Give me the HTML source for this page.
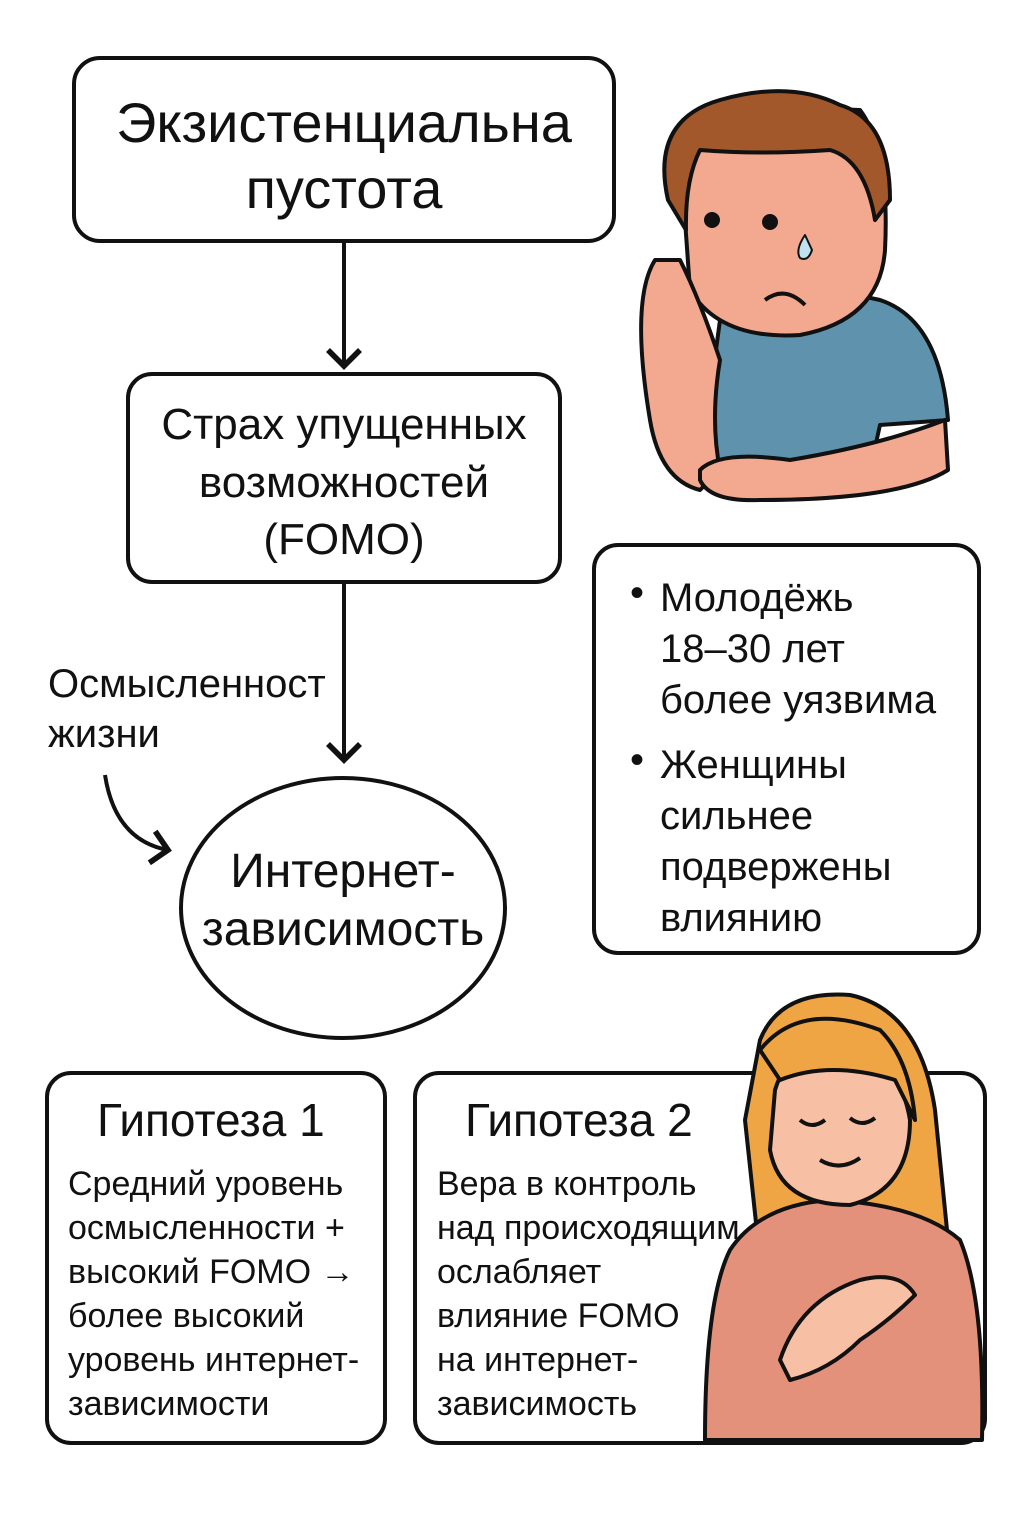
<!DOCTYPE html>
<html><head><meta charset="utf-8"><style>
body{margin:0;width:1024px;height:1536px;background:#fff;position:relative;overflow:hidden;font-family:"Liberation Sans Narrow","Liberation Sans","DejaVu Sans",sans-serif;color:#111}
.t{position:absolute;white-space:nowrap;line-height:1}
</style></head><body>
<svg width="1024" height="1536" style="position:absolute;left:0;top:0">
<defs><marker id="a" markerWidth="10" markerHeight="10" refX="5" refY="5" orient="auto"><path d="M1,1 L5,5 L1,9" fill="none" stroke="#111" stroke-width="1.4"/></marker></defs>
<g fill="none" stroke="#111" stroke-width="4">
<rect x="74" y="58" width="540" height="183" rx="26"/>
<rect x="128" y="374" width="432" height="208" rx="24"/>
<ellipse cx="343" cy="908" rx="162" ry="130"/>
<rect x="594" y="545" width="385" height="408" rx="24"/>
<rect x="47" y="1073" width="338" height="370" rx="24"/>
<rect x="415" y="1073" width="570" height="370" rx="24"/>
<path d="M344 241 V366" marker-end="url(#a)"/>
<path d="M344 582 V760" marker-end="url(#a)"/>
<path d="M105 775 Q115 840 168 850" marker-end="url(#a)"/>
</g>
<!-- boy -->
<g stroke="#111" stroke-width="4" stroke-linejoin="round">
<path d="M720 320 Q800 280 880 300 Q940 320 948 420 L880 425 L870 470 L700 470 Z" fill="#5f93ad"/>
<path d="M680 150 Q680 110 720 105 L860 110 Q890 150 885 250 Q880 320 800 335 Q720 340 690 290 Z" fill="#f2a98f"/>
<path d="M668 200 Q650 120 720 100 Q790 80 840 105 Q890 120 890 200 L875 220 Q865 160 830 150 Q760 155 700 150 Q685 180 686 230 Z" fill="#a3582c"/>
<path d="M655 260 Q630 300 650 420 Q660 480 700 490 L720 470 Q710 420 720 360 Q700 300 680 260 Z" fill="#f2a98f"/>
<path d="M700 470 Q720 450 790 460 Q880 445 945 420 L948 470 Q900 500 760 500 Q710 502 700 480 Z" fill="#f2a98f"/>
<circle cx="712" cy="220" r="6" fill="#111"/><circle cx="770" cy="222" r="6" fill="#111"/>
<path d="M765 300 Q785 285 805 305" fill="none"/>
<path d="M805 235 Q795 250 800 258 Q808 262 812 250 Z" fill="#bfe1f2" stroke-width="2"/>
</g>
<!-- woman -->
<g stroke="#111" stroke-width="4" stroke-linejoin="round">
<path d="M760 1040 Q780 990 850 995 Q920 1010 935 1110 L950 1260 L760 1260 L745 1120 Z" fill="#f0a545"/>
<path d="M730 1250 Q760 1205 830 1200 Q920 1205 960 1240 Q985 1300 982 1440 L705 1440 Q705 1300 730 1250 Z" fill="#e3917b"/>
<path d="M775 1090 Q790 1040 850 1040 Q900 1060 910 1120 Q910 1190 850 1205 Q780 1205 770 1150 Z" fill="#f7c0a5"/>
<path d="M760 1050 Q800 1000 880 1030 Q910 1060 915 1120 L895 1080 Q830 1060 780 1080 Z" fill="#f0a545"/>
<path d="M800 1120 Q812 1130 825 1120 M850 1118 Q862 1128 875 1118 M820 1160 Q840 1172 860 1158" fill="none"/>
<path d="M780 1360 Q800 1300 860 1280 Q900 1270 915 1295 Q890 1320 860 1340 Q830 1370 790 1380 Z" fill="#f7c0a5"/>
</g>
</svg>
<div class="t" style="left:74px;width:540px;text-align:center;top:95px;font-size:56px">Экзистенциальна</div>
<div class="t" style="left:74px;width:540px;text-align:center;top:161px;font-size:56px">пустота</div>
<div class="t" style="left:128px;width:432px;text-align:center;top:403px;font-size:44px">Страх упущенных</div>
<div class="t" style="left:128px;width:432px;text-align:center;top:461px;font-size:44px">возможностей</div>
<div class="t" style="left:128px;width:432px;text-align:center;top:518px;font-size:44px">(FOMO)</div>
<div class="t" style="left:48px;top:664px;font-size:40px">Осмысленност</div>
<div class="t" style="left:48px;top:714px;font-size:40px">жизни</div>
<div class="t" style="left:181px;width:324px;text-align:center;top:848px;font-size:48px">Интернет-</div>
<div class="t" style="left:181px;width:324px;text-align:center;top:906px;font-size:48px">зависимость</div>
<div class="t" style="left:630px;top:573px;font-size:40px">•</div>
<div class="t" style="left:660px;top:573px;font-size:40px;line-height:51px">Молодёжь<br>18–30 лет<br>более уязвима</div>
<div class="t" style="left:630px;top:740px;font-size:40px">•</div>
<div class="t" style="left:660px;top:740px;font-size:40px;line-height:51px">Женщины<br>сильнее<br>подвержены<br>влиянию</div>
<div class="t" style="left:97px;top:1097px;font-size:46px">Гипотеза 1</div>
<div class="t" style="left:68px;top:1162px;font-size:34px;line-height:44px">Средний уровень<br>осмысленности +<br>высокий FOMO →<br>более высокий<br>уровень интернет-<br>зависимости</div>
<div class="t" style="left:465px;top:1097px;font-size:46px">Гипотеза 2</div>
<div class="t" style="left:437px;top:1162px;font-size:34px;line-height:44px">Вера в контроль<br>над происходящим<br>ослабляет<br>влияние FOMO<br>на интернет-<br>зависимость</div>
</body></html>
